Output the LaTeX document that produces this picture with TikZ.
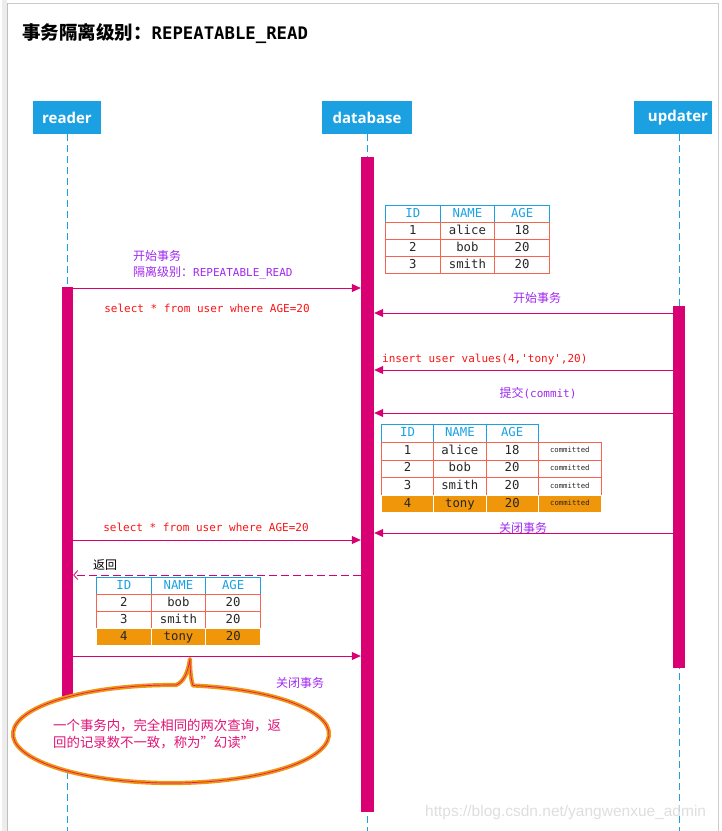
\documentclass[tikz,border=0pt]{standalone}
\usepackage{fontspec}
\setmainfont{Open Sans}
\newfontfamily\cjk{Noto Sans CJK SC}
\newfontfamily\monof{DejaVu Sans Mono}
\newfontfamily\wmfont{Liberation Sans}
\usetikzlibrary{arrows.meta,positioning,backgrounds}

\definecolor{lifeblue}{RGB}{27,161,226}
\definecolor{barpink}{RGB}{216,0,115}
\definecolor{msgpurple}{RGB}{160,40,240}
\definecolor{sqlred}{RGB}{250,20,20}
\definecolor{gridred}{RGB}{245,100,80}
\definecolor{rowamber}{RGB}{240,150,10}
\definecolor{notepink}{RGB}{225,20,120}

\begin{document}
\begin{tikzpicture}[
  x=1pt, y=1pt,
  actor/.style={fill=lifeblue, text=white, font=\fontsize{15}{18}\selectfont\bfseries,
                minimum height=33pt, inner sep=0pt},
  life/.style={draw=lifeblue, line width=0.9pt, dash pattern=on 7pt off 4pt},
  actbar/.style={fill=barpink, minimum width=12pt, inner sep=0pt, anchor=north},
  msg/.style={-{Triangle[length=9pt,width=8pt]}, draw=barpink, line width=0.8pt},
  reply/.style={-{Straight Barb[length=4pt,width=9pt]}, draw=barpink, line width=0.8pt,
                dash pattern=on 8pt off 4pt},
  sql/.style={text=sqlred, font=\monof\fontsize{11}{13}\selectfont, inner sep=0pt},
  tx/.style={text=msgpurple, font=\cjk\fontsize{12}{16}\selectfont, inner sep=0pt},
  cellbase/.style={anchor=north west, inner sep=0pt, text height=8.8pt, text depth=2.6pt,
                   font=\monof\fontsize{12.3}{14}\selectfont},
  hcell/.style={cellbase, draw=lifeblue, text=lifeblue, line width=0.8pt},
  cell/.style={cellbase, draw=gridred, text=black!85, line width=0.8pt},
  ocell/.style={cellbase, fill=rowamber, draw=white, text=black!85, line width=1pt},
  tag/.style={font=\monof\fontsize{7.3}{8}\selectfont, text height=5pt, text depth=1.5pt},
]
\useasboundingbox (0,0) rectangle (722,-831);
% page frame
\fill[black!7] (2,0) rectangle (7,-831);
\draw[black!20, line width=0.8pt] (7,-3) -- (718,-3) -- (718,-831);
\draw[black!25, line width=0.8pt] (7,-3) -- (7,-831);

% title
\node[anchor=west, inner sep=0pt] (title) at (22,-34)
  {{\cjk\bfseries\fontsize{18.5}{20}\selectfont 事务隔离级别：}{\monof\bfseries\fontsize{17.3}{20}\selectfont REPEATABLE\_READ}};

% actors
\node[actor, minimum width=68pt] (rdr) at (67,-117.5) {reader};
\node[actor, minimum width=90pt] (db) at (367,-117.5) {database};
\node[actor, minimum width=78pt] (upd) at (673,-117.5) {\hspace*{10pt}updater};

% activation bars
\node[actbar, minimum width=11pt, minimum height=473pt] (rbar) at (67.5,-287) {};
\node[actbar, minimum width=13pt, minimum height=655pt] (dbar) at (367.5,-157) {};
\node[actbar, minimum height=362pt] (ubar) at (679,-306) {};

% lifelines
\coordinate (bot) at (0,-831);
\begin{scope}[on background layer]
  \draw[life] (rdr.south) -- (rdr.south |- bot);
  \draw[life] (db.south) -- (db.south |- bot);
  \draw[life] (ubar |- upd.south) -- (ubar |- bot);
\end{scope}

% table in database
\foreach \t [count=\k from 0] in {ID,NAME,AGE}
  \node[hcell, minimum width=54.7pt, minimum height=17pt] (ta-0-\k) at (385+54.7*\k,-205) {\t};
\foreach \i/\n/\a [count=\r] in {1/alice/18,2/bob/20,3/smith/20} {
  \node[cell, minimum width=54.7pt, minimum height=17pt] (ta-\r-0) at (385,-205-17*\r) {\i};
  \node[cell, minimum width=54.7pt, minimum height=17pt] (ta-\r-1) at (439.7,-205-17*\r) {\n};
  \node[cell, minimum width=54.7pt, minimum height=17pt] (ta-\r-2) at (494.4,-205-17*\r) {\a};
}

% messages
\coordinate (a1) at (0,-288);
\coordinate (a2) at (0,-313);
\coordinate (a3) at (0,-370);
\coordinate (a4) at (0,-413);
\coordinate (a5) at (0,-533);
\coordinate (a6) at (0,-540);
\coordinate (a7) at (0,-575);
\coordinate (a8) at (0,-656);

\node[tx, anchor=west, align=left] (begin1) at (133,-265) {开始事务\\隔离级别：{\monof\fontsize{11}{13}\selectfont REPEATABLE\_READ}};
\draw[msg] (rbar.east |- a1) -- (dbar.west |- a1);
\node[sql] (sel1) at (207,-308) {select * from user where AGE=20};

\node[tx] (begin2) at (537,-298) {开始事务};
\draw[msg] (ubar.west |- a2) -- (dbar.east |- a2);

\node[sql, anchor=west] (ins) at (382,-359) {insert user values(4,'tony',20)};
\draw[msg] (ubar.west |- a3) -- (dbar.east |- a3);

\node[tx] (commit) at (538,-393) {提交{\monof\fontsize{11}{13}\selectfont (commit)}};
\draw[msg] (ubar.west |- a4) -- (dbar.east |- a4);

% table after commit
\foreach \t [count=\k from 0] in {ID,NAME,AGE}
  \node[hcell, minimum width=52.3pt, minimum height=18pt] (tb-0-\k) at (381+52.3*\k,-424) {\t};
\foreach \i/\n/\a [count=\r] in {1/alice/18,2/bob/20,3/smith/20} {
  \node[cell, minimum width=52.3pt, minimum height=17.6pt] (tb-\r-0) at (381,-442-17.6*\r+17.6) {\i};
  \node[cell, minimum width=52.3pt, minimum height=17.6pt] (tb-\r-1) at (433.3,-442-17.6*\r+17.6) {\n};
  \node[cell, minimum width=52.3pt, minimum height=17.6pt] (tb-\r-2) at (485.6,-442-17.6*\r+17.6) {\a};
  \node[cell, tag, minimum width=63pt, minimum height=17.6pt] (tb-\r-3) at (537.9,-442-17.6*\r+17.6) {committed};
}
\node[ocell, minimum width=52.3pt, minimum height=17.2pt] (tb-4-0) at (381,-494.8) {4};
\node[ocell, minimum width=52.3pt, minimum height=17.2pt] (tb-4-1) at (433.3,-494.8) {tony};
\node[ocell, minimum width=52.3pt, minimum height=17.2pt] (tb-4-2) at (485.6,-494.8) {20};
\node[ocell, tag, minimum width=63pt, minimum height=17.2pt] (tb-4-3) at (537.9,-494.8) {committed};

\node[tx] (close1) at (523,-528) {关闭事务};
\draw[msg] (ubar.west |- a5) -- (dbar.east |- a5);

\node[sql] (sel2) at (206,-527) {select * from user where AGE=20};
\draw[msg] (rbar.east |- a6) -- (dbar.west |- a6);

\node[font=\cjk\fontsize{12}{14}\selectfont, inner sep=0pt, anchor=west] (ret) at (93,-565) {返回};
\draw[reply] (dbar.west |- a7) -- (rbar.east |- a7);

% returned rows
\foreach \t [count=\k from 0] in {ID,NAME,AGE}
  \node[hcell, minimum width=54.7pt, minimum height=17pt] (tc-0-\k) at (96+54.7*\k,-577) {\t};
\foreach \i/\n/\a [count=\r] in {2/bob/20,3/smith/20} {
  \node[cell, minimum width=54.7pt, minimum height=17pt] (tc-\r-0) at (96,-577-17*\r) {\i};
  \node[cell, minimum width=54.7pt, minimum height=17pt] (tc-\r-1) at (150.7,-577-17*\r) {\n};
  \node[cell, minimum width=54.7pt, minimum height=17pt] (tc-\r-2) at (205.4,-577-17*\r) {\a};
}
\node[ocell, minimum width=54.7pt, minimum height=17pt] (tc-3-0) at (96,-628) {4};
\node[ocell, minimum width=54.7pt, minimum height=17pt] (tc-3-1) at (150.7,-628) {tony};
\node[ocell, minimum width=54.7pt, minimum height=17pt] (tc-3-2) at (205.4,-628) {20};

\draw[msg] (rbar.east |- a8) -- (dbar.west |- a8);
\node[tx] (close2) at (300,-683) {关闭事务};

% callout
\draw[fill=white, draw=rowamber, line width=4.2pt, line join=round,
      postaction={draw=notepink, line width=0.7pt}]
  (193,-685.5) arc[start angle=82, end angle=-271.8, x radius=158pt, y radius=49pt]
  .. controls (184,-682) and (188,-672) .. (190,-659)
  .. controls (190,-670) and (191,-680) .. (193,-685.5) -- cycle;
\node[anchor=west, align=left, text=notepink, inner sep=0pt,
      font=\cjk\fontsize{13.4}{17}\selectfont] (note) at (53,-734.5)
  {一个事务内，完全相同的两次查询，返\\回的记录数不一致，称为”幻读”};

% watermark
\node[anchor=west, inner sep=0pt, text=black!13, font=\wmfont\fontsize{15.5}{17}\selectfont] (wm) at (425,-812.5)
  {https://blog.csdn.net/yangwenxue\_admin};
\end{tikzpicture}
\end{document}
